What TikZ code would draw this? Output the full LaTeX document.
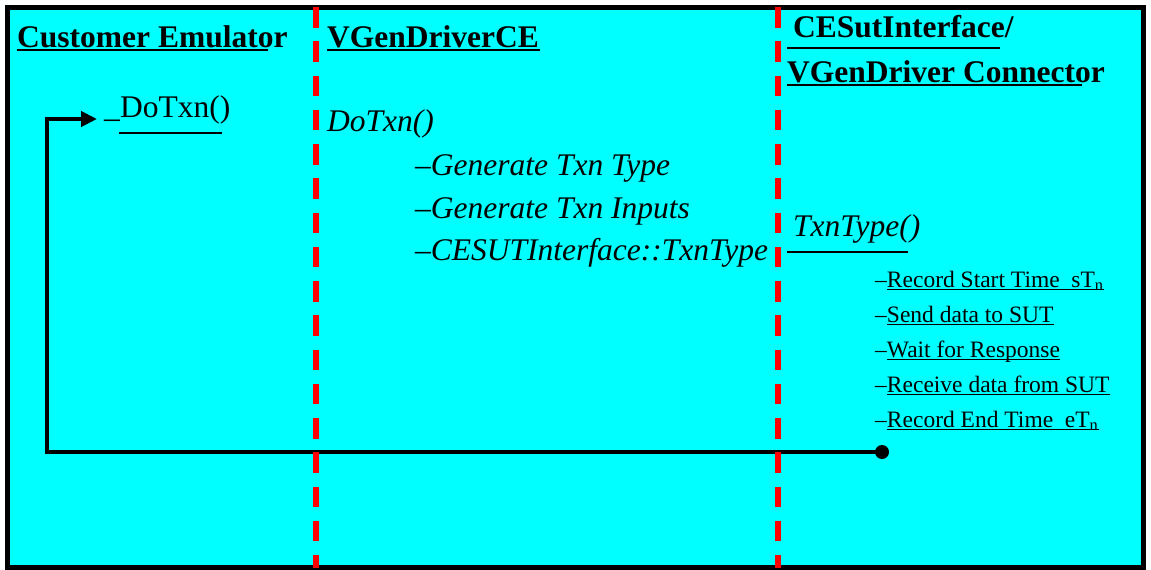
\documentclass[tikz,border=0pt]{standalone}
\usepackage{fontspec}
\setmainfont{Liberation Serif}
\usetikzlibrary{arrows.meta}
\definecolor{bgcyan}{RGB}{0,255,255}
\definecolor{lanered}{RGB}{255,0,0}

\tikzset{
  lane/.style={lanered, line width=5.5pt, dash pattern=on 20.5pt off 13.75pt},
  head/.style={anchor=base west, inner sep=0pt, font=\fontsize{31.5}{36}\selectfont\bfseries},
  call/.style={anchor=base west, inner sep=0pt, font=\fontsize{31.5}{36}\selectfont\itshape},
  plain/.style={anchor=base west, inner sep=0pt, font=\fontsize{31.5}{36}\selectfont},
  substep/.style={anchor=base west, inner sep=0pt, font=\fontsize{23.5}{28}\selectfont},
  uline/.style={line width=2.5pt},
  thinline/.style={line width=1.5pt},
  msg/.style={line width=4pt},
}

\begin{document}
\begin{tikzpicture}[x=1pt, y=-1pt]
\useasboundingbox (0,0) rectangle (1151,570);
\draw[line width=5pt, fill=bgcyan] (7.5,7) rectangle (1143,567.5);

% headers
\node[head] (ce) at (17,47) {Customer Emulator};
\node[head] (vg) at (327,47) {VGenDriverCE};
\node[head] (cs) at (793,37) {CESutInterface/};
\node[head] (vc) at (787,82) {VGenDriver Connector};
\draw[uline] ([shift={(0,3)}]ce.base west) -- ++(251,0);
\draw[uline] ([shift={(0,3)}]vg.base west) -- ++(213,0);
\draw[uline] ([shift={(-6,11)}]cs.base west) -- ++(213,0);
\draw[uline] ([shift={(0,3)}]vc.base west) -- ++(295,0);

% customer emulator
\node[plain] (us) at (104,117) {\_};
\node[plain] (dotxn) at (120,117) {DoTxn()};
\draw[uline] ([shift={(-1,16)}]dotxn.base west) -- ++(103,0);

% driver
\node[call] (drv) at (327,131) {DoTxn()};
\node[call] (gtype) at (415,175) {–Generate Txn Type};
\node[call] (ginp) at (415,218) {–Generate Txn Inputs};
\node[call] (gcall) at (415,260) {–CESUTInterface::TxnType};

% interface
\node[call] (txn) at (793,236) {TxnType()};
\draw[uline] ([shift={(-6,16)}]txn.base west) -- ++(121,0);
\foreach \txt [count=\i] in {Record Start Time~ sT\textsubscript{n},
  Send data to SUT, Wait for Response~, Receive data from SUT~,
  Record End Time~ eT\textsubscript{n}}{
  \node[substep] (r\i) at (875,{287+35*(\i-1)}) {–\txt};
  \draw[thinline] ([shift={(12,2.5)}]r\i.base west) -- ([shift={(0,2.5)}]r\i.base east);
}

% return to caller
\node[circle, fill, inner sep=0pt, minimum size=14pt] (done) at (882,452) {};
\coordinate (turn) at (47,119);
\coordinate (entry) at (97,119);
\draw[msg, -{Triangle[length=16pt, width=15pt]}] (done.center) -| (turn) -- (entry);

% lifelines
\draw[lane] (316,7) -- (316,568);
\draw[lane] (778,7) -- (778,568);
\end{tikzpicture}
\end{document}
